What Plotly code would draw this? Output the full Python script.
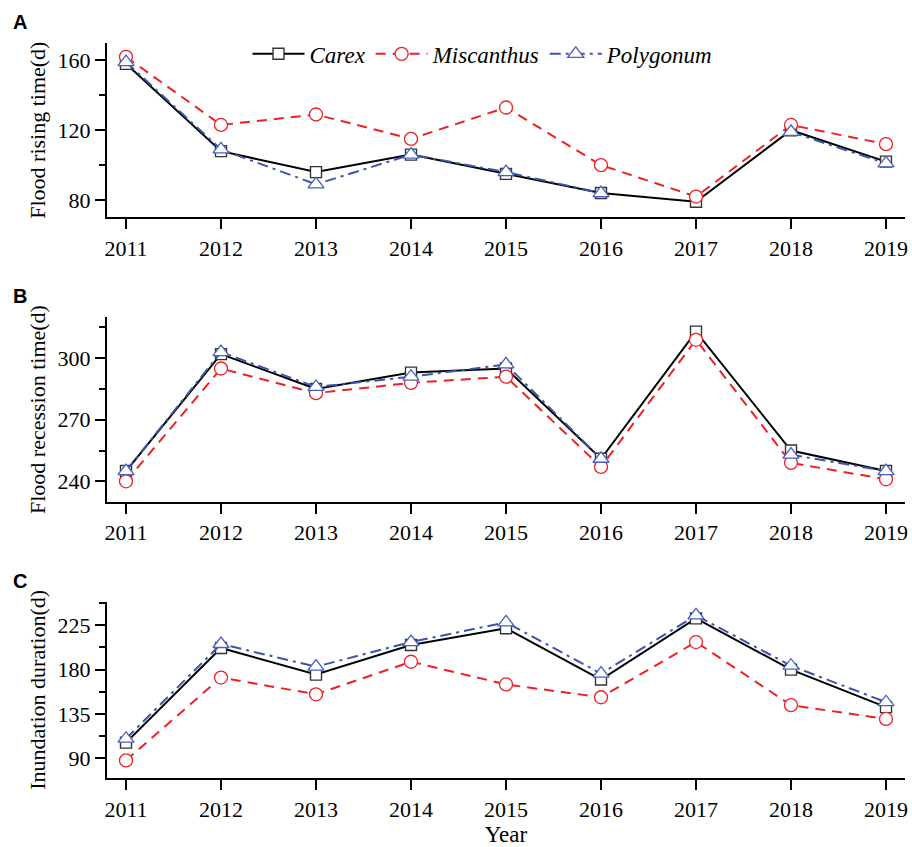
import plotly.graph_objects as go

years = [2011, 2012, 2013, 2014, 2015, 2016, 2017, 2018, 2019]
species = ["Carex", "Miscanthus", "Polygonum"]

# Flood rising time (d)
rising_carex = [158, 108, 96, 106, 95, 84, 79, 120, 102]
rising_miscanthus = [162, 123, 129, 115, 133, 100, 82, 123, 112]
rising_polygonum = [159, 109, 89, 106, 96, 84, None, 119, 101]

# Flood recession time (d)
recession_carex = [245, 302, 285, 293, 295, 251, 313, 255, 245]
recession_miscanthus = [240, 295, 283, 288, 291, 247, 309, 249, 241]
recession_polygonum = [245, 303, 286, 291, 297, 251, None, 253, 245]

# Inundation duration (d)
inundation_carex = [106, 202, 175, 205, 222, 170, 232, 180, 142]
inundation_miscanthus = [88, 172, 155, 188, 165, 152, 208, 144, 130]
inundation_polygonum = [110, 206, 183, 208, 228, 176, 235, 184, 147]

panel_titles = ["Flood rising time(d)", "Flood recession time(d)", "Inundation duration(d)"]
panel_letters = ["A", "B", "C"]
x_title = "Year"

panels = [
    (rising_carex, rising_miscanthus, rising_polygonum),
    (recession_carex, recession_miscanthus, recession_polygonum),
    (inundation_carex, inundation_miscanthus, inundation_polygonum),
]

W, H = 912, 847
ML, MR = 107, 7

styles = [
    dict(line=dict(color="black", width=2, dash="solid"),
         marker=dict(symbol="square", size=11, color="white",
                     line=dict(color="#333333", width=1.4))),
    dict(line=dict(color="#ee2026", width=2, dash="10px,7px"),
         marker=dict(symbol="circle", size=13, color="white",
                     line=dict(color="#ee2026", width=1.3))),
    dict(line=dict(color="#3a55aa", width=2, dash="11px,5px,3px,5px"),
         marker=dict(symbol="triangle-up", size=14, color="white",
                     line=dict(color="#4660c0", width=1.3))),
]

# plot-area pixel extents (top, bottom) for each panel
areas = [(43, 218), (318, 503), (603, 780)]
yranges = [[70, 170], [230, 320], [70, 249]]
ytick0 = [80, 240, 90]
ydtick = [40, 30, 45]

serif = "Liberation Serif"
fig = go.Figure()

for p, series in enumerate(panels):
    sfx = "" if p == 0 else str(p + 1)
    for s, vals in enumerate(series):
        fig.add_trace(go.Scatter(
            x=years, y=vals, mode="lines+markers",
            name="<i>%s</i>" % species[s],
            showlegend=(p == 0),
            connectgaps=False,
            xaxis="x" + sfx, yaxis="y" + sfx,
            line=styles[s]["line"], marker=styles[s]["marker"],
        ))

layout = dict(
    width=W, height=H,
    margin=dict(l=ML, r=MR, t=0, b=0),
    plot_bgcolor="white", paper_bgcolor="white",
    font=dict(family=serif, size=22, color="black"),
    legend=dict(orientation="h", x=(483 - ML) / (W - ML - MR), y=1 - 54 / H,
                xanchor="center", yanchor="middle",
                font=dict(family=serif, size=23, color="black"),
                bgcolor="rgba(0,0,0,0)", itemwidth=52),
    annotations=[],
)

for p in range(3):
    sfx = "" if p == 0 else str(p + 1)
    top, bot = areas[p]
    dom = [1 - bot / H, 1 - top / H]
    xa = dict(
        domain=[0, 1], range=[2010.8, 2019.2], anchor="y" + sfx,
        tickmode="array", tickvals=years, ticktext=[str(y) for y in years],
        showline=True, linecolor="black", linewidth=2,
        ticks="outside", ticklen=10, tickwidth=2, tickcolor="black",
        showgrid=False, zeroline=False,
        tickfont=dict(family=serif, size=22, color="black"),
    )
    if p == 2:
        xa["title"] = dict(text=x_title, font=dict(family=serif, size=23), standoff=9)
    ya = dict(
        domain=dom, range=yranges[p], anchor="x" + sfx,
        tick0=ytick0[p], dtick=ydtick[p],
        showline=True, linecolor="black", linewidth=2,
        ticks="outside", ticklen=10, tickwidth=2, tickcolor="black",
        minor=dict(dtick=ydtick[p] / 2, tick0=ytick0[p], ticks="outside",
                   ticklen=6, tickwidth=2, tickcolor="black", showgrid=False),
        showgrid=False, zeroline=False,
        tickfont=dict(family=serif, size=22, color="black"),
        title=dict(text=panel_titles[p], font=dict(family=serif, size=22), standoff=6),
    )
    layout["xaxis" + sfx] = xa
    layout["yaxis" + sfx] = ya
    layout["annotations"].append(dict(
        text="<b>%s</b>" % panel_letters[p], xref="paper", yref="paper",
        x=(11 - ML) / (W - ML - MR), y=1 - (top - 21) / H,
        xanchor="left", yanchor="middle", showarrow=False,
        font=dict(family="Liberation Sans", size=20, color="black"),
    ))

fig.update_layout(**layout)
fig.write_html("out.html")
